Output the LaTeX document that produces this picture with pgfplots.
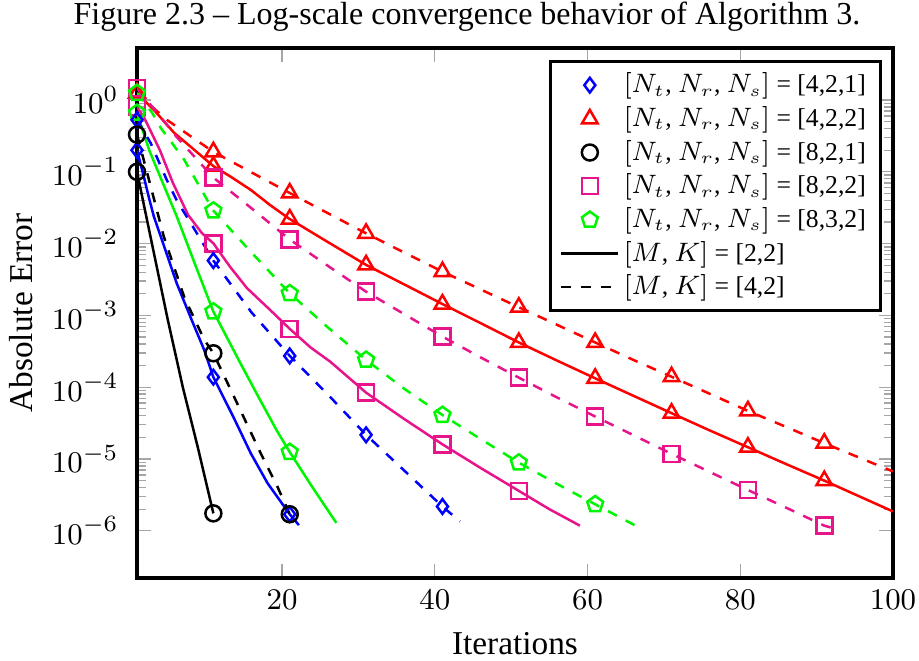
\documentclass[border=0pt]{standalone}
\usepackage{fontspec}
\setmainfont{Liberation Serif}
\usepackage{pgfplots}
\pgfplotsset{compat=1.18}
\definecolor{mypink}{RGB}{232,20,140}
\definecolor{mygreen}{RGB}{0,245,0}
\begin{document}
\begin{tikzpicture}
\begin{axis}[
  scale only axis, width=226.8pt, height=159pt,
  ymode=log, xmin=1, xmax=100, ymin=2.2e-7, ymax=5.3,
  xtick={20,40,60,80,100},
  ytick={1e-6,1e-5,1e-4,1e-3,1e-2,1e-1,1},
  axis line style={line width=1.2pt},
  tick style={gray!70, line width=0.4pt},
  tick label style={font=\fontsize{9.5}{11}\selectfont},
  yticklabel style={xshift=-2pt},
  label style={font=\fontsize{10}{12}\selectfont},
  xlabel={Iterations}, ylabel={Absolute Error},
  ylabel style={yshift=-1pt},
  title={Figure 2.3 – Log-scale convergence behavior of Algorithm 3.},
  title style={font=\fontsize{9.6}{11}\selectfont, at={(0.5,1)}, anchor=base, xshift=-14.4pt, yshift=1.0pt},
  legend style={at={(0.985,0.977)}, anchor=north east, draw=black, line width=0.9pt,
    font=\fontsize{7.7}{9.2}\selectfont, nodes={inner sep=1.3pt}, cells={anchor=west}},
  every axis plot/.append style={line width=0.75pt},
  mark size=2.4pt,
]
% legend images
\addlegendimage{only marks, blue, mark=diamond, mark size=2.2pt, line width=0.75pt}
\addlegendentry{$[N_t$, $N_r$, $N_s]$ = [4,2,1]}
\addlegendimage{only marks, red, mark=triangle, mark size=2.7pt, line width=0.75pt}
\addlegendentry{$[N_t$, $N_r$, $N_s]$ = [4,2,2]}
\addlegendimage{only marks, black, mark=o, line width=0.75pt}
\addlegendentry{$[N_t$, $N_r$, $N_s]$ = [8,2,1]}
\addlegendimage{only marks, mypink, mark=square, line width=0.75pt}
\addlegendentry{$[N_t$, $N_r$, $N_s]$ = [8,2,2]}
\addlegendimage{only marks, mygreen, mark=pentagon, mark size=2.5pt, line width=0.75pt}
\addlegendentry{$[N_t$, $N_r$, $N_s]$ = [8,3,2]}
\addlegendimage{black, line width=0.75pt}
\addlegendentry{$[M$, $K]$ = [2,2]}
\addlegendimage{black, dashed, line width=0.75pt}
\addlegendentry{$[M$, $K]$ = [4,2]}

% ---------- red [4,2,2]
\addplot[red, no marks, forget plot] coordinates {(1,1.25)(3.2,0.73)(5.85,0.35)(8.1,0.22)(11,0.12)(13.3,0.085)(15.9,0.056)(18.5,0.034)(21,0.022)(26,0.0105)(31,5.05e-3)(36,2.7e-3)(41,1.44e-3)(46,7.8e-4)(51,4.2e-4)(56,2.35e-4)(61,1.33e-4)(66,7.6e-5)(71,4.35e-5)(76,2.5e-5)(81,1.46e-5)(86,8.5e-6)(91,5e-6)(100,1.86e-6)};
\addplot[red, only marks, mark=triangle, mark size=2.7pt, forget plot] coordinates {(1,1.25)(11,0.12)(21,0.022)(31,5.05e-3)(41,1.44e-3)(51,4.2e-4)(61,1.33e-4)(71,4.35e-5)(81,1.46e-5)(91,5e-6)};
\addplot[red, dashed, no marks, forget plot] coordinates {(1,1.25)(3,0.8)(4.9,0.53)(8.9,0.27)(11,0.19)(16,0.098)(21,0.0507)(26,0.0265)(31,0.0139)(36,7.5e-3)(41,4.07e-3)(46,2.3e-3)(51,1.3e-3)(56,7.4e-4)(61,4.2e-4)(66,2.4e-4)(71,1.4e-4)(76,8.1e-5)(81,4.68e-5)(86,2.8e-5)(91,1.66e-5)(100,6.7e-6)};
\addplot[red, only marks, mark=triangle, mark size=2.7pt, forget plot] coordinates {(1,1.25)(11,0.19)(21,0.0507)(31,0.0139)(41,4.07e-3)(51,1.3e-3)(61,4.2e-4)(71,1.4e-4)(81,4.68e-5)(91,1.66e-5)};

% ---------- pink [8,2,2]
\addplot[mypink, no marks, forget plot] coordinates {(1,0.8)(2,0.55)(4,0.2)(5.7,0.07)(7.7,0.025)(9.5,0.014)(11,0.0101)(13.2,4.73e-3)(15.4,2.4e-3)(18.4,1.2e-3)(21,6.5e-4)(23.7,3.6e-4)(26.3,2.27e-4)(31,8.4e-5)(36,3.6e-5)(41,1.6e-5)(46,7.5e-6)(51,3.6e-6)(55,2e-6)(59,1.18e-6)};
\addplot[mypink, only marks, mark=square, forget plot] coordinates {(1,0.8)(11,0.0101)(21,6.5e-4)(31,8.4e-5)(41,1.6e-5)(51,3.6e-6)};
\addplot[mypink, dashed, no marks, forget plot] coordinates {(1,1.47)(6.2,0.305)(11,0.083)(16,0.031)(21,0.0114)(26,4.9e-3)(31,2.14e-3)(36,1.04e-3)(41,5.07e-4)(46,2.6e-4)(51,1.36e-4)(56,7.2e-5)(61,3.9e-5)(66,2.15e-5)(71,1.18e-5)(76,6.6e-6)(81,3.7e-6)(86,2.1e-6)(91,1.18e-6)(92,1.1e-6)};
\addplot[mypink, only marks, mark=square, forget plot] coordinates {(1,1.47)(11,0.083)(21,0.0114)(31,2.14e-3)(41,5.07e-4)(51,1.36e-4)(61,3.9e-5)(71,1.18e-5)(81,3.7e-6)(91,1.18e-6)};

% ---------- green [8,3,2]
\addplot[mygreen, no marks, forget plot] coordinates {(1,0.66)(2.6,0.2)(4.4,0.069)(6.2,0.024)(8.5,5.5e-3)(11,1.13e-3)(14.5,2.2e-4)(17,7e-5)(19.3,2.5e-5)(21,1.25e-5)(24,4e-6)(27.1,1.29e-6)};
\addplot[mygreen, only marks, mark=pentagon, mark size=2.5pt, forget plot] coordinates {(1,0.66)(11,1.13e-3)(21,1.25e-5)};
\addplot[mygreen, dashed, no marks, forget plot] coordinates {(1,1.25)(3,0.66)(4.1,0.41)(5.6,0.25)(7.2,0.146)(8.7,0.077)(11,0.0288)(16,7.5e-3)(21,2.03e-3)(26,6.8e-4)(31,2.4e-4)(36,9.5e-5)(41,4.1e-5)(46,1.9e-5)(51,8.9e-6)(56,4.5e-6)(61,2.34e-6)(66.9,1.09e-6)};
\addplot[mygreen, only marks, mark=pentagon, mark size=2.5pt, forget plot] coordinates {(1,1.25)(11,0.0288)(21,2.03e-3)(31,2.4e-4)(41,4.1e-5)(51,8.9e-6)(61,2.34e-6)};

% ---------- blue [4,2,1]
\addplot[blue, no marks, forget plot] coordinates {(1,0.2)(1.9,0.085)(2.6,0.042)(3.2,0.024)(4.5,9.5e-3)(6.2,2.8e-3)(8,9.5e-4)(9.8,3.3e-4)(11,1.38e-4)(13.7,3.7e-5)(15.9,1.2e-5)(18.1,4.6e-6)(21,1.7e-6)(22.2,1.2e-6)};
\addplot[blue, only marks, mark=diamond, mark size=2.2pt, forget plot] coordinates {(1,0.2)(11,1.38e-4)(21,1.7e-6)};
\addplot[blue, dashed, no marks, forget plot] coordinates {(1,0.53)(2.8,0.25)(4.9,0.077)(6.2,0.04)(8.5,0.016)(11,5.8e-3)(16,1.1e-3)(21,2.73e-4)(26,7.9e-5)(31,2.17e-5)(36,6.9e-6)(41,2.18e-6)(43.3,1.35e-6)};
\addplot[blue, only marks, mark=diamond, mark size=2.2pt, forget plot] coordinates {(1,0.53)(11,5.8e-3)(21,2.73e-4)(31,2.17e-5)(41,2.18e-6)};

% ---------- black [8,2,1]
\addplot[black, no marks, forget plot] coordinates {(1,0.1)(3,0.0095)(5,9e-4)(7,1e-4)(9,1.4e-5)(11,1.75e-6)};
\addplot[black, only marks, mark=o, forget plot] coordinates {(1,0.1)(11,1.75e-6)};
\addplot[black, dashed, no marks, forget plot] coordinates {(1,0.33)(2.6,0.075)(4.5,0.0126)(7.2,1.78e-3)(9.8,4.6e-4)(11,2.97e-4)(13.7,7.4e-5)(17.2,1.2e-5)(19.4,4.1e-6)(21,1.7e-6)};
\addplot[black, only marks, mark=o, forget plot] coordinates {(1,0.33)(11,2.97e-4)(21,1.7e-6)};
\end{axis}
\pgfresetboundingbox
\path[use as bounding box] ([xshift=-41.1pt,yshift=-24.6pt]current axis.south west) rectangle ([xshift=7.8pt,yshift=14.4pt]current axis.north east);
\end{tikzpicture}
\end{document}
